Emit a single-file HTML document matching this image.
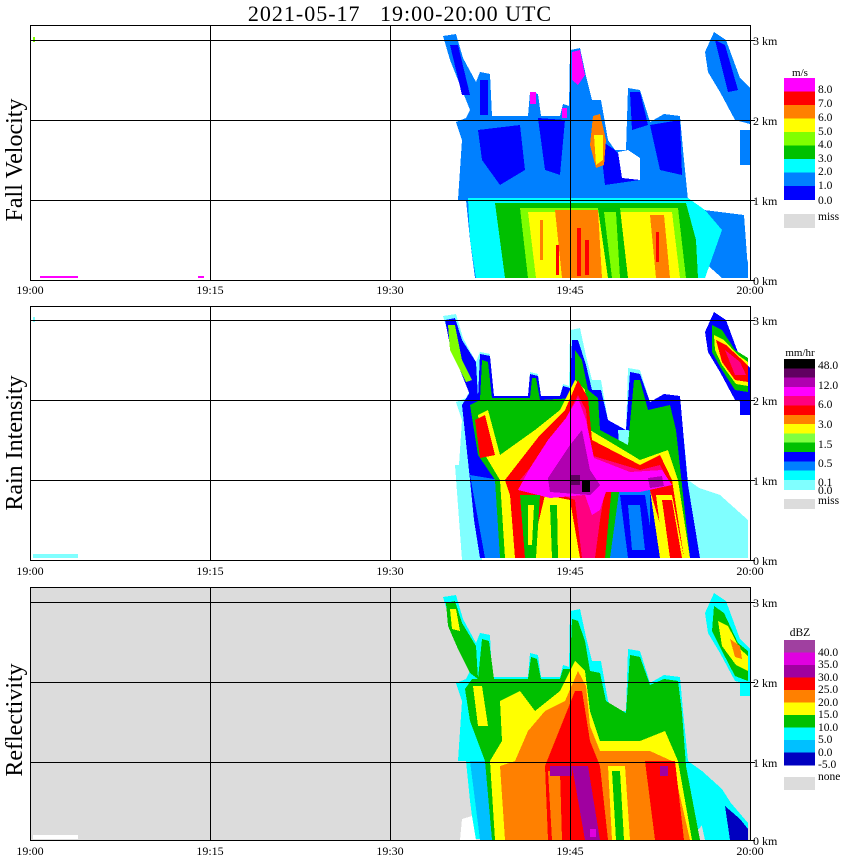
<!DOCTYPE html>
<html><head><meta charset="utf-8"><style>
html,body{margin:0;padding:0;background:#fff;}
svg{display:block;}
text{font-family:"Liberation Serif",serif;fill:#000;}
</style></head><body>
<svg width="850" height="868" viewBox="0 0 850 868" xmlns="http://www.w3.org/2000/svg" shape-rendering="crispEdges">
<defs>
<path id="ol" d="M458,200 L462,140 L456,122 L466,118 L470,110 L460,85 L450,60 L443,36 L456,34 L463,58 L476,82 L480,72 L490,74 L492,116 L528,116 L530,92 L538,94 L541,116 L560,116 L563,104 L569,106 L570,50 L580,48 L586,76 L592,100 L601,100 L608,140 L615,150 L626,150 L628,88 L640,90 L650,122 L664,114 L680,116 L683,150 L688,200 L702,210 L722,228 L736,250 L748,262 L748,278 L722,278 L704,262 L690,278 L475,278 L470,240 L466,200 Z"/>
<path id="rp" d="M705,52 L714,32 L726,40 L740,78 L750,88 L750,124 L735,120 L720,92 L708,72 Z"/>
</defs>

<!-- title -->
<text x="400" y="21" font-size="22" text-anchor="middle" letter-spacing="1" xml:space="preserve" style="white-space:pre">2021-05-17   19:00-20:00 UTC</text>

<!-- ============ PANEL 1 ============ -->
<rect x="30" y="25" width="720" height="255" fill="#fff"/>
<g>
<use href="#ol" fill="#0080ff"/>
<use href="#rp" fill="#0080ff"/>
<rect x="740" y="130" width="10" height="35" fill="#0080ff"/>
<polygon points="704,210 744,215 748,270 720,275 704,262" fill="#0080ff"/>
<!-- dark blue patches -->
<polygon points="478,130 520,125 525,170 500,185 482,160" fill="#0000ff"/>
<polygon points="538,118 565,120 560,175 545,170" fill="#0000ff"/>
<polygon points="450,45 458,45 470,95 462,95" fill="#0000ff"/>
<polygon points="600,140 615,150 640,180 605,185" fill="#0000ff"/>
<polygon points="650,125 680,120 682,175 660,170" fill="#0000ff"/>
<polygon points="715,40 725,45 738,90 728,92" fill="#0000ff"/>
<rect x="480" y="80" width="8" height="35" fill="#0000ff"/>
<polygon points="630,92 640,92 648,125 632,130" fill="#0000ff"/>
<!-- white notch -->
<polygon points="618,152 628,150 640,158 640,180 622,178" fill="#fff"/>
<!-- magenta plume -->
<polygon points="572,52 580,50 585,75 578,85 572,80" fill="#ff00ff"/>
<rect x="530" y="92" width="6" height="12" fill="#ff00ff"/>
<rect x="562" y="108" width="5" height="10" fill="#ff00ff"/>
<!-- orange plume -->
<polygon points="593,116 600,114 606,140 604,165 596,168 590,145" fill="#ff8000"/>
<polygon points="594,135 603,135 603,160 596,165" fill="#ffff00"/>
<!-- lower band -->
<polygon points="468,198 688,198 705,210 722,230 705,278 476,278 470,240" fill="#00ffff"/>
<polygon points="495,203 686,203 696,240 698,278 505,278" fill="#00c000"/>
<polygon points="520,208 678,208 686,278 528,278" fill="#80ff00"/>
<polygon points="528,212 672,212 680,278 536,278" fill="#ffff00"/>
<polygon points="598,208 620,208 628,278 608,278" fill="#00c000"/>
<polygon points="604,212 616,212 620,278 612,278" fill="#80ff00"/>
<polygon points="555,210 598,210 602,278 562,278" fill="#ff8000"/>
<polygon points="650,215 664,215 670,278 656,278" fill="#ff8000"/>
<rect x="577" y="228" width="4" height="48" fill="#ff0000"/>
<rect x="585" y="240" width="4" height="35" fill="#ff0000"/>
<rect x="556" y="245" width="3" height="30" fill="#ff0000"/>
<rect x="656" y="232" width="3" height="30" fill="#ff0000"/>
<rect x="540" y="220" width="3" height="40" fill="#ff8000"/>
<!-- bits -->
<rect x="40" y="276" width="38" height="2" fill="#ff00ff"/>
<rect x="198" y="276" width="6" height="2" fill="#ff00ff"/>
<rect x="33" y="37" width="2" height="5" fill="#80ff00"/>
</g>
<!-- grid p1 -->
<g stroke="#000" stroke-width="1" fill="none">
<rect x="30.5" y="25.5" width="720" height="255"/>
<line x1="30" y1="40.5" x2="755" y2="40.5"/>
<line x1="30" y1="120.5" x2="755" y2="120.5"/>
<line x1="30" y1="200.5" x2="755" y2="200.5"/>
<line x1="750" y1="280.5" x2="755" y2="280.5"/>
<line x1="210.5" y1="25" x2="210.5" y2="280"/>
<line x1="390.5" y1="25" x2="390.5" y2="280"/>
<line x1="570.5" y1="25" x2="570.5" y2="280"/>
</g>

<!-- ============ PANEL 2 ============ -->
<g transform="translate(0,280)">
<use href="#ol" fill="#80ffff"/>
<use href="#rp" fill="#0000ff"/>
<polygon points="455,185 470,185 482,280 462,280" fill="#80ffff"/>
<polygon points="690,205 720,215 748,240 748,278 700,278" fill="#80ffff"/>
<rect x="740" y="100" width="10" height="35" fill="#0000ff"/>
<!-- blue body -->
<polygon points="462,125 470,112 478,118 480,74 490,76 494,116 528,116 530,94 538,96 541,116 560,116 563,106 570,108 572,60 578,60 586,85 592,110 601,110 608,140 626,150 630,92 640,94 650,122 664,114 680,116 683,150 688,205 700,278 480,278 474,240 470,200" fill="#0000ff"/>
<polygon points="445,40 455,38 462,60 476,82 478,118 470,115 460,90 450,65" fill="#0000ff"/>
<polygon points="470,195 500,200 505,278 485,278" fill="#0080ff"/>
<polygon points="600,210 650,210 650,278 605,278" fill="#0080ff"/>
<polygon points="618,150 628,150 640,160 638,180 620,178" fill="#80ffff"/>
<!-- green body -->
<polygon points="470,125 480,120 482,80 488,82 492,118 530,118 532,98 536,98 540,120 575,118 575,70 582,80 588,110 598,118 600,150 628,165 634,100 640,100 648,130 670,125 676,150 682,205 690,278 682,278 650,210 620,205 610,278 500,278 495,200 478,175" fill="#00c000"/>
<polygon points="448,45 455,45 462,80 472,100 466,102 450,70" fill="#80ff00"/>
<!-- yellow -->
<polygon points="478,135 488,130 500,175 535,150 560,130 575,100 585,110 590,150 640,180 668,170 678,200 690,278 660,278 650,210 610,205 605,278 505,278 500,200 482,170" fill="#ffff00"/>
<!-- red -->
<polygon points="475,140 485,135 495,175 480,178" fill="#ff0000"/>
<polygon points="505,200 540,155 565,130 578,100 588,118 592,160 640,185 660,175 672,200 684,278 670,278 650,210 612,205 605,278 580,278 570,220 545,215 530,278 515,278 510,215" fill="#ff0000"/>
<polygon points="520,200 545,170 565,140 578,115 586,130 590,175 640,190 660,185 668,200 640,210 605,210 600,240 595,278 582,278 575,220" fill="#ff0080"/>
<!-- magenta core -->
<polygon points="530,188 548,160 566,138 578,118 586,140 594,178 630,192 662,190 672,205 640,212 606,212 600,230 592,235 585,215 550,218 518,210" fill="#ff00ff"/>
<polygon points="548,198 570,165 582,150 590,190 600,205 590,215 550,212" fill="#b000b0"/>
<polygon points="648,198 662,196 664,206 650,208" fill="#b000b0"/>
<rect x="582" y="200" width="8" height="12" fill="#000"/>
<rect x="570" y="195" width="10" height="10" fill="#600060"/>
<!-- lower columns -->
<polygon points="520,215 540,215 536,278 525,278" fill="#00c000"/>
<polygon points="528,225 534,225 532,265 528,265" fill="#ffff00"/>
<polygon points="545,220 560,220 562,278 548,278" fill="#ffff00"/>
<polygon points="550,225 557,225 558,278 552,278" fill="#00c000"/>
<polygon points="620,215 645,215 655,278 628,278" fill="#0000ff"/>
<polygon points="628,225 640,225 645,270 632,270" fill="#0080ff"/>
<polygon points="656,215 672,215 684,278 664,278" fill="#ffff00"/>
<polygon points="662,220 672,220 682,278 670,278" fill="#ff0000"/>
<!-- right plume core -->
<polygon points="712,45 722,50 735,70 748,78 748,112 735,110 722,90 712,72" fill="#00c000"/>
<polygon points="714,55 724,60 738,75 748,82 748,106 736,104 722,85 715,70" fill="#ffff00"/>
<polygon points="716,60 726,65 740,78 748,86 748,102 735,100 722,82" fill="#ff0000"/>
<polygon points="725,70 740,82 746,95 735,95" fill="#ff0080"/>
<rect x="33" y="274" width="45" height="4" fill="#80ffff"/>
<rect x="33" y="37" width="2" height="5" fill="#80ffff"/>
</g>
<g stroke="#000" stroke-width="1" fill="none">
<rect x="30.5" y="306.5" width="720" height="254"/>
<line x1="30" y1="320.5" x2="755" y2="320.5"/>
<line x1="30" y1="400.5" x2="755" y2="400.5"/>
<line x1="30" y1="480.5" x2="755" y2="480.5"/>
<line x1="750" y1="560.5" x2="755" y2="560.5"/>
<line x1="210.5" y1="306" x2="210.5" y2="560"/>
<line x1="390.5" y1="306" x2="390.5" y2="560"/>
<line x1="570.5" y1="306" x2="570.5" y2="560"/>
</g>

<!-- ============ PANEL 3 ============ -->
<rect x="30" y="587" width="720" height="253" fill="#dcdcdc"/>
<g transform="translate(0,561)">
<use href="#ol" fill="#00ffff"/>
<use href="#rp" fill="#00ffff"/>
<polygon points="690,210 725,235 748,262 748,279 705,279" fill="#00ffff"/>
<polygon points="462,258 472,255 476,279 460,279" fill="#fff"/>
<polygon points="725,245 740,258 748,268 748,279 730,279" fill="#0000c0"/>
<polygon points="470,200 490,200 498,279 480,279" fill="#00c0ff"/>
<rect x="740" y="100" width="10" height="35" fill="#00ffff"/>
<!-- green body -->
<polygon points="465,128 472,118 478,118 482,78 489,80 494,118 528,118 531,96 537,98 541,118 560,118 563,108 570,108 572,58 578,60 585,80 590,110 600,112 606,140 626,152 630,94 640,96 650,124 664,118 678,120 682,152 686,205 700,279 492,279 485,200 470,160" fill="#00c000"/>
<polygon points="446,42 455,40 462,62 476,85 478,118 470,112 458,88 448,65" fill="#00c000"/>
<polygon points="714,45 724,52 738,82 748,90 748,120 735,115 722,90 712,70" fill="#00c000"/>
<!-- yellow -->
<polygon points="473,125 482,125 488,165 478,165" fill="#ffff00"/>
<polygon points="500,140 520,130 535,150 560,130 575,100 585,110 590,150 600,180 640,180 665,170 678,200 692,279 495,279 490,200 502,180" fill="#ffff00"/>
<polygon points="450,48 456,48 460,70 452,68" fill="#ffff00"/>
<polygon points="718,60 728,65 740,88 748,95 748,110 736,104 722,85" fill="#ffff00"/>
<polygon points="730,78 740,85 742,98 735,96" fill="#ff8000"/>
<!-- orange -->
<polygon points="528,170 545,150 565,140 578,110 586,125 590,165 600,190 650,190 672,200 690,279 505,279 500,205 515,200" fill="#ff8000"/>
<polygon points="608,205 625,205 630,279 612,279" fill="#ffff00"/>
<polygon points="612,210 620,210 624,279 616,279" fill="#00c000"/>
<!-- red -->
<polygon points="545,205 575,130 582,130 590,180 600,205 608,279 548,279" fill="#ff0000"/>
<polygon points="645,200 675,200 684,279 655,279" fill="#ff0000"/>
<polygon points="548,210 560,210 562,279 552,279" fill="#ff8000"/>
<!-- purple -->
<polygon points="572,205 588,205 600,279 585,279" fill="#a000a0"/>
<polygon points="550,205 572,205 572,215 550,215" fill="#a000a0"/>
<polygon points="660,205 668,205 668,215 660,215" fill="#a000a0"/>
<rect x="590" y="268" width="6" height="8" fill="#e000e0"/>
<rect x="33" y="274" width="45" height="4" fill="#fff"/>
</g>
<g stroke="#000" stroke-width="1" fill="none">
<rect x="30.5" y="587.5" width="720" height="253"/>
<line x1="30" y1="602.5" x2="755" y2="602.5"/>
<line x1="30" y1="682.5" x2="755" y2="682.5"/>
<line x1="30" y1="762.5" x2="755" y2="762.5"/>
<line x1="750" y1="840.5" x2="755" y2="840.5"/>
<line x1="210.5" y1="587" x2="210.5" y2="840"/>
<line x1="390.5" y1="587" x2="390.5" y2="840"/>
<line x1="570.5" y1="587" x2="570.5" y2="840"/>
</g>

<!-- axis labels -->
<g font-size="12" text-anchor="middle">
<text x="30" y="294">19:00</text><text x="210" y="294">19:15</text><text x="390" y="294">19:30</text><text x="570" y="294">19:45</text><text x="750" y="294">20:00</text>
<text x="30" y="575">19:00</text><text x="210" y="575">19:15</text><text x="390" y="575">19:30</text><text x="570" y="575">19:45</text><text x="750" y="575">20:00</text>
<text x="30" y="855">19:00</text><text x="210" y="855">19:15</text><text x="390" y="855">19:30</text><text x="570" y="855">19:45</text><text x="750" y="855">20:00</text>
</g>
<g font-size="12">
<text x="753" y="45">3 km</text><text x="753" y="125">2 km</text><text x="753" y="205">1 km</text><text x="753" y="285">0 km</text>
<text x="753" y="325">3 km</text><text x="753" y="405">2 km</text><text x="753" y="485">1 km</text><text x="753" y="565">0 km</text>
<text x="753" y="607">3 km</text><text x="753" y="687">2 km</text><text x="753" y="767">1 km</text><text x="753" y="845">0 km</text>
</g>
<g font-size="24" text-anchor="middle">
<text transform="translate(22,160) rotate(-90)">Fall Velocity</text>
<text transform="translate(22,443) rotate(-90)">Rain Intensity</text>
<text transform="translate(22,720) rotate(-90)">Reflectivity</text>
</g>

<!-- legend 1 -->
<g>
<text x="800" y="76" font-size="11" text-anchor="middle">m/s</text>
<rect x="784" y="78" width="31" height="14" fill="#ff00ff"/>
<rect x="784" y="91.5" width="31" height="14" fill="#ff0000"/>
<rect x="784" y="105" width="31" height="14" fill="#ff8000"/>
<rect x="784" y="118.5" width="31" height="14" fill="#ffff00"/>
<rect x="784" y="132" width="31" height="14" fill="#80ff00"/>
<rect x="784" y="145.5" width="31" height="14" fill="#00c000"/>
<rect x="784" y="159" width="31" height="14" fill="#00ffff"/>
<rect x="784" y="172.5" width="31" height="14" fill="#0080ff"/>
<rect x="784" y="186" width="31" height="14" fill="#0000ff"/>
<rect x="784" y="214" width="31" height="14" fill="#dcdcdc"/>
<g font-size="11.5">
<text x="818" y="93">8.0</text><text x="818" y="107">7.0</text><text x="818" y="121">6.0</text><text x="818" y="135">5.0</text><text x="818" y="148">4.0</text><text x="818" y="162">3.0</text><text x="818" y="175">2.0</text><text x="818" y="189">1.0</text><text x="818" y="204">0.0</text><text x="818" y="220">miss</text>
</g>
</g>
<!-- legend 2 -->
<g>
<text x="800" y="356" font-size="11" text-anchor="middle">mm/hr</text>
<rect x="784" y="359" width="31" height="10" fill="#000"/>
<rect x="784" y="368.3" width="31" height="10" fill="#600060"/>
<rect x="784" y="377.6" width="31" height="10" fill="#b000b0"/>
<rect x="784" y="386.9" width="31" height="10" fill="#ff00ff"/>
<rect x="784" y="396.2" width="31" height="10" fill="#ff0080"/>
<rect x="784" y="405.5" width="31" height="10" fill="#ff0000"/>
<rect x="784" y="414.8" width="31" height="10" fill="#ff8000"/>
<rect x="784" y="424.1" width="31" height="10" fill="#ffff00"/>
<rect x="784" y="433.4" width="31" height="10" fill="#80ff40"/>
<rect x="784" y="442.7" width="31" height="10" fill="#00c000"/>
<rect x="784" y="452" width="31" height="10" fill="#0000ff"/>
<rect x="784" y="461.3" width="31" height="10" fill="#0080ff"/>
<rect x="784" y="470.6" width="31" height="10" fill="#00ffff"/>
<rect x="784" y="479.9" width="31" height="10" fill="#80ffff"/>
<rect x="784" y="499" width="31" height="10" fill="#dcdcdc"/>
<g font-size="11.5">
<text x="818" y="369">48.0</text><text x="818" y="389">12.0</text><text x="818" y="408">6.0</text><text x="818" y="428">3.0</text><text x="818" y="448">1.5</text><text x="818" y="467">0.5</text><text x="818" y="486">0.1</text><text x="818" y="494">0.0</text><text x="818" y="504">miss</text>
</g>
</g>
<!-- legend 3 -->
<g>
<text x="800" y="636" font-size="11.5" text-anchor="middle">dBZ</text>
<rect x="784" y="640" width="31" height="13" fill="#a040a0"/>
<rect x="784" y="652.5" width="31" height="13" fill="#e000e0"/>
<rect x="784" y="665" width="31" height="13" fill="#a000a0"/>
<rect x="784" y="677.5" width="31" height="13" fill="#ff0000"/>
<rect x="784" y="690" width="31" height="13" fill="#ff8000"/>
<rect x="784" y="702.5" width="31" height="13" fill="#ffff00"/>
<rect x="784" y="715" width="31" height="13" fill="#00c000"/>
<rect x="784" y="727.5" width="31" height="13" fill="#00ffff"/>
<rect x="784" y="740" width="31" height="13" fill="#00c0ff"/>
<rect x="784" y="752.5" width="31" height="13" fill="#0000c0"/>
<rect x="784" y="777" width="31" height="13" fill="#dcdcdc"/>
<g font-size="11.5">
<text x="818" y="656">40.0</text><text x="818" y="668">35.0</text><text x="818" y="681">30.0</text><text x="818" y="693">25.0</text><text x="818" y="706">20.0</text><text x="818" y="718">15.0</text><text x="818" y="731">10.0</text><text x="818" y="743">5.0</text><text x="818" y="756">0.0</text><text x="818" y="768">-5.0</text><text x="818" y="780">none</text>
</g>
</g>
</svg>
</body></html>
